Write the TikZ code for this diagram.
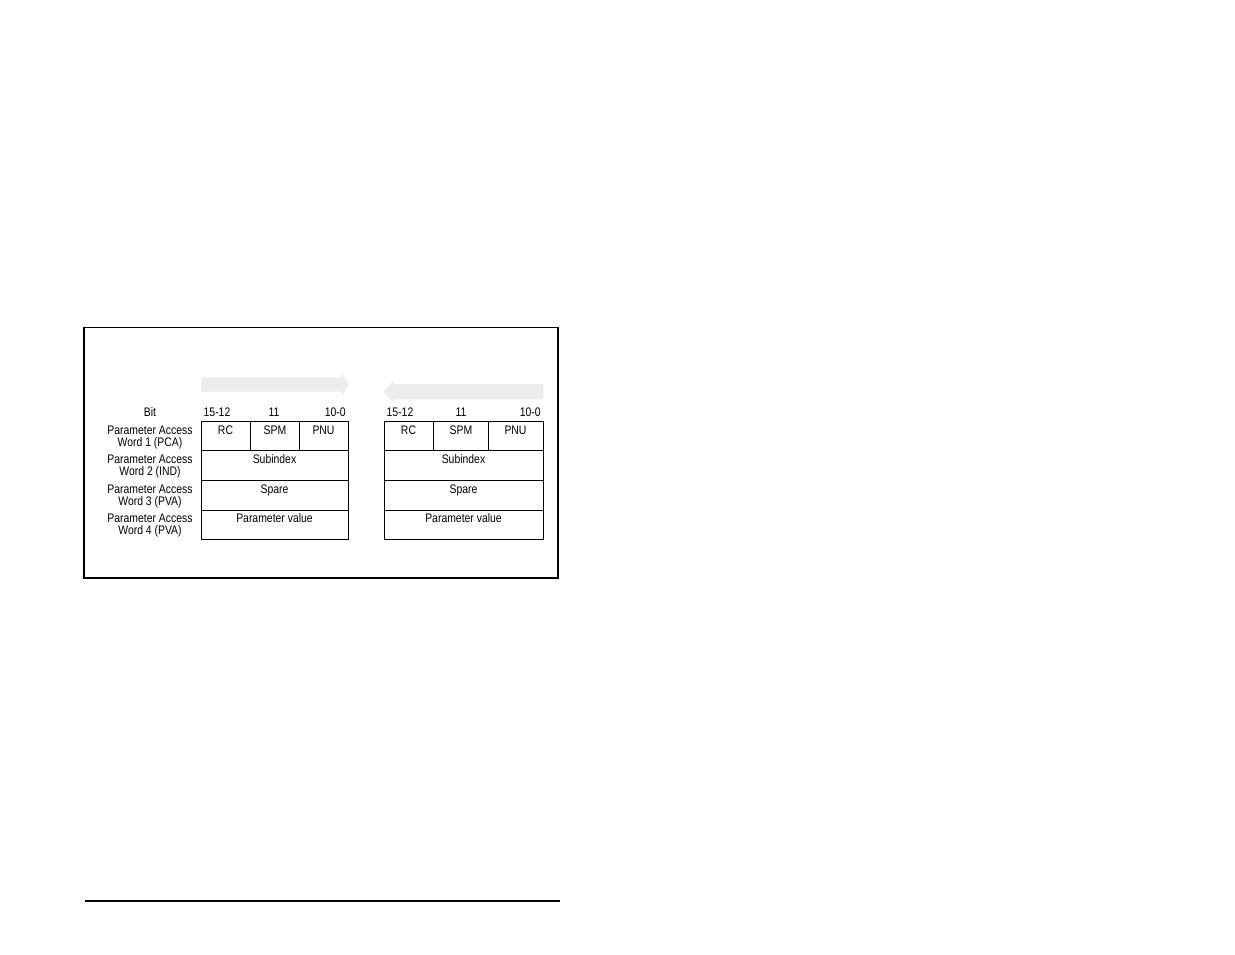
\documentclass[tikz,border=0pt]{standalone}
\usepackage{fontspec}
\setmainfont{Liberation Sans}[FakeStretch=0.84]
\begin{document}
\begin{tikzpicture}[x=0.75pt,y=-0.75pt,
  txt/.style={inner sep=0pt,anchor=base,font=\fontsize{9.3pt}{9.3pt}\selectfont},
  cell/.style={draw=black,line width=0.75pt},
  arr/.style={fill=black!7,draw=none}]
\useasboundingbox (0,0) rectangle (1235,954);
% frame
\draw[line width=0.75pt] (84,327) -- (558,327);
\draw[line width=1.1pt] (558,327) -- (558,578) -- (84,578);
\draw[line width=1.5pt] (84,326.6) -- (84,578.5);
% bottom rule
\draw[line width=1pt] (85,901) -- (560,901);
% arrows
\fill[arr] (201,377.3) -- (341.7,377.3) -- (341.7,372.5) -- (349,384.5) -- (341.7,396.5) -- (341.7,391.7) -- (201,391.7) -- cycle;
\fill[arr] (543.3,384) -- (394.3,384) -- (394.3,379.7) -- (383.3,391.7) -- (394.3,403.7) -- (394.3,399.3) -- (543.3,399.3) -- cycle;
% left table
\draw[cell] (201,421) rectangle (348,539);
\draw[cell] (201,450) -- (348,450);
\draw[cell] (201,480) -- (348,480);
\draw[cell] (201,510) -- (348,510);
\draw[cell] (250.5,421) -- (250.5,450);
\draw[cell] (299.5,421) -- (299.5,450);
% right table
\draw[cell] (384,421) rectangle (543,539);
\draw[cell] (384,450) -- (543,450);
\draw[cell] (384,480) -- (543,480);
\draw[cell] (384,510) -- (543,510);
\draw[cell] (433.5,421) -- (433.5,450);
\draw[cell] (488.5,421) -- (488.5,450);
% labels
\node[txt] (bit) at (150,416) {Bit};
\node[txt] (l1a) at (150,434) {Parameter Access};
\node[txt] (l1b) at (150,446) {Word 1 (PCA)};
\node[txt] (l2a) at (150,463) {Parameter Access};
\node[txt] (l2b) at (150,475) {Word 2 (IND)};
\node[txt] (l3a) at (150,493) {Parameter Access};
\node[txt] (l3b) at (150,505) {Word 3 (PVA)};
\node[txt] (l4a) at (150,522.5) {Parameter Access};
\node[txt] (l4b) at (150,534.5) {Word 4 (PVA)};
% bit headers left
\node[txt] (ha1) at (217,416) {15-12};
\node[txt] (ha2) at (274,416) {11};
\node[txt,anchor=base east] (ha3) at (346,416) {10-0};
% bit headers right
\node[txt] (hb1) at (400,416) {15-12};
\node[txt] (hb2) at (461,416) {11};
\node[txt,anchor=base east] (hb3) at (541,416) {10-0};
% left cells
\node[txt] (ra) at (225.5,434) {RC};
\node[txt] (sa) at (275,434) {SPM};
\node[txt] (pa) at (323.5,434) {PNU};
\node[txt] (sia) at (274.5,463) {Subindex};
\node[txt] (spa) at (274.5,493) {Spare};
\node[txt] (pva) at (274.5,522.5) {Parameter value};
% right cells
\node[txt] (rb) at (408.5,434) {RC};
\node[txt] (sb) at (461,434) {SPM};
\node[txt] (pb) at (515.5,434) {PNU};
\node[txt] (sib) at (463.5,463) {Subindex};
\node[txt] (spb) at (463.5,493) {Spare};
\node[txt] (pvb) at (463.5,522.5) {Parameter value};
\end{tikzpicture}
\end{document}
